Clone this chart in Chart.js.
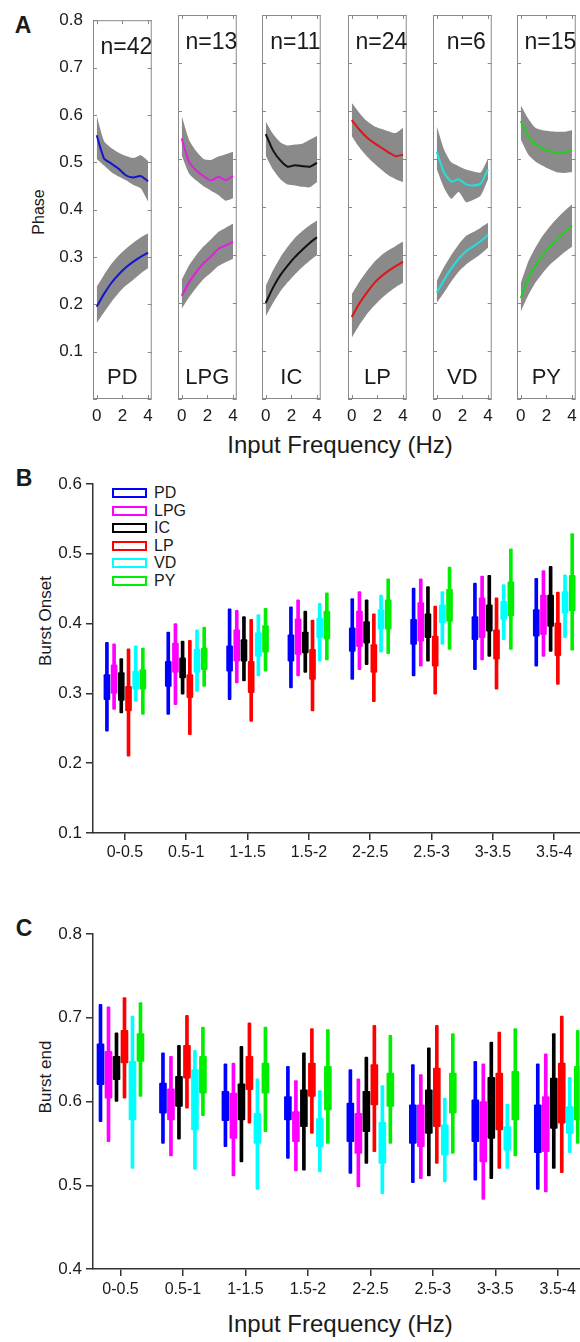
<!DOCTYPE html>
<html>
<head>
<meta charset="utf-8">
<script src="https://cdn.jsdelivr.net/npm/chart.js@4/dist/chart.umd.min.js"></script>
<style>
  html, body { margin: 0; padding: 0; background: #fff; }
  body { width: 580px; height: 1342px; position: relative; overflow: hidden;
         font-family: 'Liberation Sans', Arial, sans-serif; color: #1a1a1a; }
  canvas { position: absolute; }
  .lbl { position: absolute; white-space: nowrap; line-height: 1; }
  .ctr { transform: translate(-50%, -50%); }
  .rot { transform: translate(-50%, -50%) rotate(-90deg); }
  .letter { font-weight: bold; font-size: 23px; }
  .legend-row { display: flex; align-items: center; height: 16px; font-size: 16px; }
  .legend-box { display: inline-block; width: 31px; height: 6px; border: 2px solid; margin-right: 7px; }
</style>
</head>
<body>

<div class="lbl letter ctr" style="left:23px; top:25px">A</div>
<div class="lbl letter ctr" style="left:24px; top:478px">B</div>
<div class="lbl letter ctr" style="left:24px; top:928px">C</div>

<div class="lbl rot" style="left:39px; top:212px; font-size:16px">Phase</div>
<div class="lbl rot" style="left:45px; top:621px; font-size:17px">Burst Onset</div>
<div class="lbl rot" style="left:45px; top:1077px; font-size:17px">Burst end</div>

<div class="lbl ctr" style="left:340px; top:445px; font-size:24px">Input Frequency (Hz)</div>
<div class="lbl ctr" style="left:340px; top:1324px; font-size:24px">Input Frequency (Hz)</div>

<div id="legendB"></div>

<script>
// ---- data ----
const neurons = ['PD', 'LPG', 'IC', 'LP', 'VD', 'PY'];
const cellCounts = [42, 13, 11, 24, 6, 15];
const freqBins = ['0-0.5', '0.5-1', '1-1.5', '1.5-2', '2-2.5', '2.5-3', '3-3.5', '3.5-4'];

// Panel A: phase vs input frequency (x in Hz)
const freqsA = [0, 0.57, 1.14, 1.71, 2.29, 2.86, 3.43, 4];

const endMeanA = [
  [0.557, 0.508, 0.497, 0.486, 0.472, 0.468, 0.471, 0.460],
  [0.543, 0.494, 0.476, 0.464, 0.455, 0.463, 0.456, 0.465],
  [0.552, 0.518, 0.497, 0.484, 0.487, 0.485, 0.484, 0.492],
  [0.581, 0.562, 0.546, 0.534, 0.524, 0.514, 0.506, 0.509],
  [0.515, 0.472, 0.453, 0.458, 0.447, 0.445, 0.449, 0.478],
  [0.579, 0.548, 0.531, 0.522, 0.516, 0.513, 0.514, 0.519]
];
const endHiA = [
  [0.598, 0.545, 0.530, 0.520, 0.513, 0.509, 0.515, 0.503],
  [0.590, 0.540, 0.516, 0.500, 0.498, 0.505, 0.510, 0.515],
  [0.578, 0.552, 0.535, 0.528, 0.530, 0.532, 0.540, 0.548],
  [0.617, 0.597, 0.580, 0.569, 0.563, 0.558, 0.554, 0.565],
  [0.569, 0.520, 0.493, 0.485, 0.478, 0.474, 0.472, 0.501],
  [0.612, 0.585, 0.565, 0.560, 0.558, 0.557, 0.557, 0.560]
];
const endLoA = [
  [0.507, 0.493, 0.479, 0.470, 0.462, 0.452, 0.445, 0.417],
  [0.508, 0.470, 0.455, 0.443, 0.434, 0.425, 0.413, 0.418],
  [0.507, 0.478, 0.458, 0.447, 0.445, 0.442, 0.441, 0.452],
  [0.548, 0.525, 0.507, 0.492, 0.478, 0.466, 0.458, 0.452],
  [0.479, 0.440, 0.417, 0.431, 0.410, 0.415, 0.424, 0.458],
  [0.541, 0.510, 0.495, 0.486, 0.478, 0.472, 0.471, 0.473]
];
const onsetMeanA = [
  [0.195, 0.222, 0.245, 0.263, 0.278, 0.290, 0.300, 0.309],
  [0.215, 0.243, 0.265, 0.283, 0.297, 0.313, 0.320, 0.328],
  [0.200, 0.232, 0.258, 0.278, 0.296, 0.311, 0.325, 0.337],
  [0.171, 0.198, 0.220, 0.240, 0.255, 0.267, 0.277, 0.286],
  [0.222, 0.248, 0.272, 0.292, 0.308, 0.318, 0.329, 0.342],
  [0.210, 0.250, 0.278, 0.300, 0.318, 0.333, 0.348, 0.362]
];
const onsetHiA = [
  [0.237, 0.262, 0.285, 0.303, 0.318, 0.330, 0.341, 0.350],
  [0.248, 0.278, 0.300, 0.318, 0.333, 0.348, 0.357, 0.365],
  [0.235, 0.268, 0.295, 0.317, 0.336, 0.350, 0.362, 0.372],
  [0.218, 0.243, 0.265, 0.284, 0.299, 0.310, 0.319, 0.328],
  [0.246, 0.275, 0.300, 0.322, 0.340, 0.348, 0.357, 0.367],
  [0.241, 0.285, 0.315, 0.340, 0.360, 0.377, 0.392, 0.405]
];
const onsetLoA = [
  [0.160, 0.183, 0.205, 0.224, 0.240, 0.252, 0.265, 0.276],
  [0.188, 0.212, 0.232, 0.250, 0.263, 0.277, 0.285, 0.292],
  [0.172, 0.200, 0.224, 0.243, 0.260, 0.275, 0.288, 0.300],
  [0.127, 0.153, 0.175, 0.193, 0.209, 0.222, 0.233, 0.242],
  [0.200, 0.222, 0.245, 0.265, 0.280, 0.291, 0.302, 0.315],
  [0.182, 0.215, 0.242, 0.262, 0.280, 0.293, 0.306, 0.317]
];

// Panel B: burst onset (whisker low, box low, box high, whisker high), rows = neurons
const onsetMin = [
  [0.246, 0.270, 0.291, 0.308, 0.320, 0.325, 0.334, 0.339],
  [0.277, 0.284, 0.315, 0.325, 0.334, 0.339, 0.348, 0.353],
  [0.272, 0.299, 0.318, 0.330, 0.341, 0.346, 0.353, 0.360],
  [0.210, 0.241, 0.260, 0.275, 0.288, 0.299, 0.306, 0.313],
  [0.289, 0.303, 0.325, 0.346, 0.359, 0.370, 0.377, 0.380],
  [0.270, 0.310, 0.332, 0.348, 0.357, 0.363, 0.363, 0.362]
];
const onsetQ1 = [
  [0.291, 0.310, 0.332, 0.346, 0.360, 0.370, 0.377, 0.382],
  [0.300, 0.330, 0.346, 0.356, 0.367, 0.375, 0.380, 0.384],
  [0.290, 0.322, 0.346, 0.358, 0.372, 0.380, 0.389, 0.396],
  [0.275, 0.294, 0.301, 0.320, 0.330, 0.339, 0.349, 0.354],
  [0.306, 0.330, 0.353, 0.380, 0.392, 0.401, 0.406, 0.415],
  [0.306, 0.334, 0.359, 0.378, 0.392, 0.403, 0.411, 0.418]
];
const onsetQ3 = [
  [0.327, 0.346, 0.368, 0.384, 0.394, 0.406, 0.410, 0.420],
  [0.341, 0.372, 0.391, 0.407, 0.418, 0.430, 0.437, 0.441],
  [0.330, 0.351, 0.377, 0.388, 0.403, 0.414, 0.427, 0.441],
  [0.310, 0.327, 0.346, 0.363, 0.370, 0.382, 0.391, 0.401],
  [0.332, 0.363, 0.387, 0.408, 0.420, 0.427, 0.432, 0.446],
  [0.334, 0.365, 0.397, 0.418, 0.434, 0.449, 0.460, 0.469]
];
const onsetMax = [
  [0.373, 0.388, 0.421, 0.424, 0.436, 0.451, 0.458, 0.465],
  [0.371, 0.400, 0.419, 0.434, 0.446, 0.464, 0.468, 0.476],
  [0.350, 0.375, 0.410, 0.418, 0.434, 0.453, 0.469, 0.482],
  [0.364, 0.376, 0.406, 0.405, 0.414, 0.425, 0.437, 0.445],
  [0.368, 0.391, 0.413, 0.429, 0.441, 0.446, 0.456, 0.470],
  [0.365, 0.395, 0.422, 0.444, 0.464, 0.481, 0.507, 0.529]
];

// Panel C: burst end
const endMin = [
  [0.576, 0.550, 0.546, 0.532, 0.514, 0.503, 0.506, 0.495],
  [0.552, 0.535, 0.511, 0.517, 0.498, 0.508, 0.483, 0.492],
  [0.600, 0.555, 0.528, 0.518, 0.526, 0.511, 0.508, 0.520],
  [0.604, 0.592, 0.574, 0.562, 0.540, 0.526, 0.520, 0.515],
  [0.520, 0.519, 0.495, 0.516, 0.490, 0.504, 0.520, 0.539],
  [0.606, 0.583, 0.564, 0.550, 0.550, 0.538, 0.535, 0.550]
];
const endQ1 = [
  [0.620, 0.586, 0.577, 0.578, 0.552, 0.550, 0.552, 0.539],
  [0.604, 0.578, 0.556, 0.552, 0.538, 0.546, 0.528, 0.540],
  [0.626, 0.594, 0.578, 0.570, 0.564, 0.562, 0.556, 0.568],
  [0.646, 0.628, 0.614, 0.606, 0.596, 0.570, 0.566, 0.574],
  [0.578, 0.566, 0.550, 0.546, 0.526, 0.536, 0.542, 0.562],
  [0.648, 0.610, 0.610, 0.590, 0.594, 0.586, 0.578, 0.578]
];
const endQ3 = [
  [0.669, 0.622, 0.612, 0.606, 0.598, 0.596, 0.602, 0.596],
  [0.660, 0.615, 0.610, 0.588, 0.586, 0.596, 0.600, 0.606],
  [0.654, 0.630, 0.621, 0.614, 0.612, 0.614, 0.629, 0.628],
  [0.685, 0.667, 0.654, 0.646, 0.644, 0.640, 0.634, 0.646],
  [0.648, 0.638, 0.586, 0.580, 0.575, 0.572, 0.570, 0.594],
  [0.681, 0.654, 0.646, 0.642, 0.634, 0.634, 0.636, 0.642]
];
const endMax = [
  [0.716, 0.658, 0.645, 0.642, 0.638, 0.644, 0.648, 0.645],
  [0.713, 0.654, 0.646, 0.625, 0.627, 0.632, 0.645, 0.657],
  [0.682, 0.667, 0.666, 0.658, 0.653, 0.664, 0.671, 0.681],
  [0.724, 0.703, 0.694, 0.687, 0.691, 0.691, 0.683, 0.702],
  [0.702, 0.661, 0.627, 0.613, 0.619, 0.604, 0.597, 0.629],
  [0.718, 0.689, 0.689, 0.686, 0.679, 0.681, 0.687, 0.685]
];

// ---- styles ----
const lineColors = ['#1515d0', '#e020e0', '#111111', '#e01515', '#20e0e0', '#20d020'];
const barColors = ['#0000ff', '#ff00ff', '#000000', '#ff0000', '#00ffff', '#00ee00'];
const bandColor = '#8a8a8a';
const panelLeftA = [93, 178, 262, 348, 433, 517];
const seriesOffsetB = [-0.293, -0.176, -0.059, 0.059, 0.176, 0.293];
const seriesOffsetC = [-0.32, -0.192, -0.064, 0.064, 0.192, 0.32];

Chart.defaults.font.family = "'Liberation Sans', Arial, sans-serif";
Chart.defaults.color = '#1a1a1a';

// Grey box with inward ticks and labels for each panel A subplot
const subBoxPlugin = {
  id: 'subBox',
  afterDraw(chart, args, opts) {
    const { ctx, chartArea: a, scales } = chart;
    ctx.save();
    ctx.strokeStyle = '#8a8a8a';
    ctx.lineWidth = 1;
    ctx.strokeRect(a.left + 0.5, a.top + 0.5, a.right - a.left - 1, a.bottom - a.top - 1);
    ctx.beginPath();
    scales.y.ticks.forEach(t => {
      const y = Math.round(scales.y.getPixelForValue(t.value)) + 0.5;
      ctx.moveTo(a.left, y); ctx.lineTo(a.left + 4, y);
      ctx.moveTo(a.right - 4, y); ctx.lineTo(a.right, y);
    });
    scales.x.ticks.forEach(t => {
      const x = Math.round(scales.x.getPixelForValue(t.value)) + 0.5;
      ctx.moveTo(x, a.bottom); ctx.lineTo(x, a.bottom - 4);
      ctx.moveTo(x, a.top); ctx.lineTo(x, a.top + 4);
    });
    ctx.stroke();

    const cx = (a.left + a.right) / 2;
    ctx.fillStyle = '#1a1a1a';
    ctx.font = "23px 'Liberation Sans', Arial, sans-serif";
    ctx.textAlign = 'center';
    ctx.textBaseline = 'alphabetic';
    ctx.fillText('n=' + opts.n, cx + 4, a.top + 34);
    ctx.font = "22px 'Liberation Sans', Arial, sans-serif";
    ctx.fillText(opts.name, cx, a.bottom - 15);
    ctx.restore();
  }
};

function pts(values) {
  return values.map((v, i) => ({ x: freqsA[i], y: v }));
}

function bandSet(values, fill) {
  return {
    data: pts(values), borderWidth: 0, borderColor: 'transparent',
    backgroundColor: bandColor, pointRadius: 0, tension: 0.2, fill: fill, order: 2
  };
}

neurons.forEach((name, k) => {
  const cv = document.createElement('canvas');
  cv.width = 160;
  cv.height = 430;
  cv.style.left = (panelLeftA[k] - 93) + 'px';
  cv.style.top = '0px';
  document.body.appendChild(cv);

  new Chart(cv, {
    type: 'line',
    data: {
      datasets: [
        { data: pts(endMeanA[k]), borderColor: lineColors[k], borderWidth: 2, pointRadius: 0, tension: 0.2, fill: false, order: 1 },
        { data: pts(onsetMeanA[k]), borderColor: lineColors[k], borderWidth: 2, pointRadius: 0, tension: 0.2, fill: false, order: 1 },
        bandSet(endHiA[k], '+1'),
        bandSet(endLoA[k], false),
        bandSet(onsetHiA[k], '+1'),
        bandSet(onsetLoA[k], false)
      ]
    },
    options: {
      responsive: false,
      animation: false,
      devicePixelRatio: 1,
      layout: { padding: { left: 0, right: 4, top: 15, bottom: 0 } },
      plugins: {
        legend: { display: false },
        tooltip: { enabled: false },
        subBox: { n: cellCounts[k], name: name }
      },
      scales: {
        x: {
          type: 'linear', min: -0.29, max: 4.29,
          afterBuildTicks: s => { s.ticks = [{ value: 0 }, { value: 2 }, { value: 4 }]; },
          afterFit: s => { s.height = 31; },
          ticks: { callback: v => String(v), font: { size: 17 }, padding: 7, maxRotation: 0, autoSkip: false },
          grid: { display: false, drawTicks: false },
          border: { display: false }
        },
        y: {
          min: 0, max: 0.8,
          afterFit: s => { s.width = 93; },
          ticks: {
            display: k === 0, stepSize: 0.1,
            callback: v => (Math.abs(v) < 1e-9 ? '' : v.toFixed(1)),
            font: { size: 17 }, padding: 10
          },
          grid: { display: false, drawTicks: false },
          border: { display: false }
        }
      }
    },
    plugins: [subBoxPlugin]
  });
});

// ---- panels B and C: box plots built from floating bars ----
function boxDatasets(lo, q1, q3, hi, offsets, boxWidth) {
  const sets = [];
  neurons.forEach((name, k) => {
    sets.push({
      label: name + ' range',
      data: freqBins.map((b, i) => ({ x: i + offsets[k], y: [lo[k][i], hi[k][i]] })),
      backgroundColor: barColors[k], barThickness: 3, grouped: false,
      borderSkipped: false, borderRadius: 1, order: 2
    });
    sets.push({
      label: name,
      data: freqBins.map((b, i) => ({ x: i + offsets[k], y: [q1[k][i], q3[k][i]] })),
      backgroundColor: barColors[k], barThickness: boxWidth, grouped: false,
      borderSkipped: false, borderRadius: 1, order: 1
    });
  });
  return sets;
}

function boxChart(top, height, yMin, yMax, xMin, xMax, axisHeight, labelPad, datasets) {
  const cv = document.createElement('canvas');
  cv.width = 580;
  cv.height = height;
  cv.style.left = '0px';
  cv.style.top = top + 'px';
  document.body.appendChild(cv);
  new Chart(cv, {
    type: 'bar',
    data: { datasets: datasets },
    options: {
      responsive: false,
      animation: false,
      devicePixelRatio: 1,
      layout: { padding: { left: 0, right: 0, top: 24, bottom: 0 } },
      plugins: { legend: { display: false }, tooltip: { enabled: false } },
      scales: {
        x: {
          type: 'linear', min: xMin, max: xMax, offset: false,
          afterBuildTicks: s => { s.ticks = freqBins.map((b, i) => ({ value: i })); },
          afterFit: s => { s.height = axisHeight; },
          ticks: { callback: v => freqBins[v], font: { size: 16 }, padding: labelPad, maxRotation: 0, autoSkip: false },
          grid: { drawOnChartArea: false, offset: false, tickLength: 7, color: '#333', lineWidth: 1.5 },
          border: { color: '#333', width: 1.5 }
        },
        y: {
          min: yMin, max: yMax,
          afterFit: s => { s.width = 93; },
          ticks: { stepSize: 0.1, callback: v => v.toFixed(1), font: { size: 17 }, padding: 4 },
          grid: { drawOnChartArea: false, tickLength: 7, color: '#333', lineWidth: 1.5 },
          border: { color: '#333', width: 1.5 }
        }
      }
    }
  });
}

boxChart(460, 420, 0.1, 0.6, -0.52, 7.42, 47, 3,
  boxDatasets(onsetMin, onsetQ1, onsetQ3, onsetMax, seriesOffsetB, 6));
boxChart(910, 432, 0.4, 0.8, -0.44, 7.35, 73, 4,
  boxDatasets(endMin, endQ1, endQ3, endMax, seriesOffsetC, 7));

// legend for panel B
const legend = document.getElementById('legendB');
neurons.forEach((name, k) => {
  const row = document.createElement('div');
  row.className = 'lbl legend-row';
  row.style.left = '112px';
  row.style.top = (493 + k * 17.6 - 8) + 'px';
  const box = document.createElement('span');
  box.className = 'legend-box';
  box.style.borderColor = barColors[k];
  row.appendChild(box);
  row.appendChild(document.createTextNode(name));
  legend.appendChild(row);
});
</script>
</body>
</html>
